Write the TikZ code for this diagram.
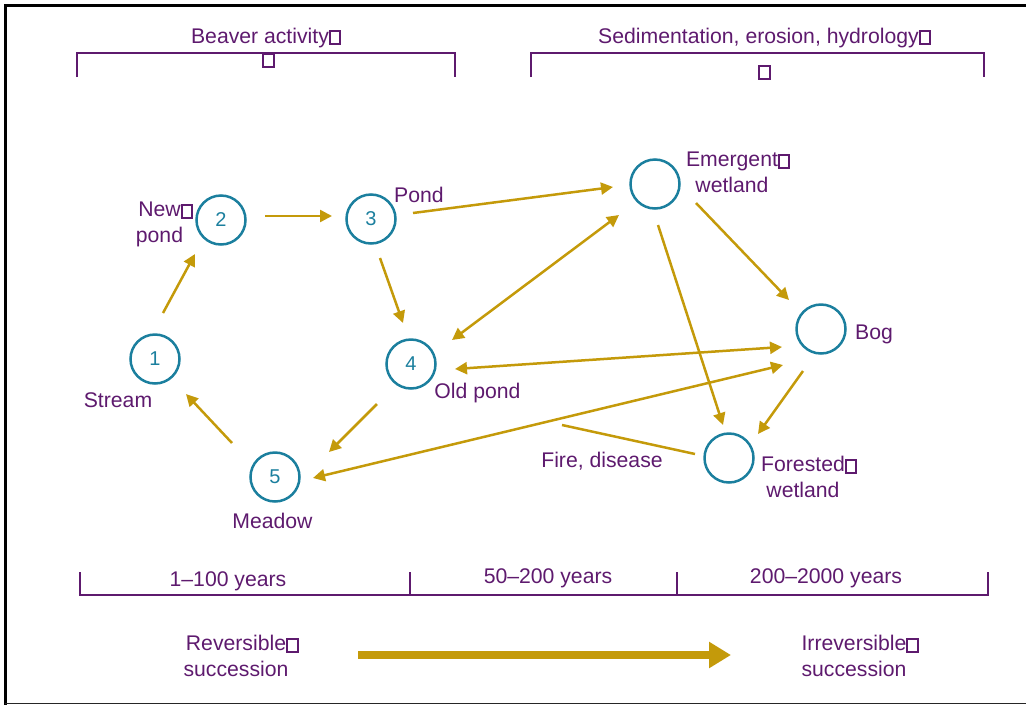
\documentclass[tikz,border=0pt]{standalone}
\usepackage{fontspec}
\setmainfont{Liberation Sans}
\usetikzlibrary{arrows.meta}
\definecolor{txt}{HTML}{5E1A6E}
\definecolor{ring}{HTML}{1B7F9E}
\definecolor{gold}{HTML}{C49A0A}
\newcommand{\gbox}{{\fboxsep=0pt\fboxrule=2pt\fbox{\rule{0pt}{11pt}\hspace{8.5pt}}}}
\newcommand{\gb}{\rlap{\gbox}}
\begin{document}
\begin{tikzpicture}[x=1pt,y=-1pt,
  lbl/.style={text=txt,font=\fontsize{21.2}{25.5}\selectfont,inner sep=0pt,anchor=base,align=center},
  st/.style={circle,draw=ring,line width=2.5pt,minimum size=49pt,inner sep=0pt,text=ring,font=\fontsize{20}{22}\selectfont},
  arr/.style={draw=gold,line width=2.5pt,-{Triangle[length=12pt,width=12pt]}},
  arrb/.style={draw=gold,line width=2.5pt,{Triangle[length=12pt,width=12pt]}-{Triangle[length=12pt,width=12pt]}},
  brk/.style={draw=txt,line width=1.4pt}
]
\useasboundingbox (0,0) rectangle (1026,705);
% frame
\draw[line width=3pt] (1026,5) -- (5,5) -- (5,705);
\draw[line width=1.2pt,black!85] (5,703.5) -- (1026,703.5);
% brackets
\draw[brk] (77,77) -- (77,53) -- (455,53) -- (455,77);
\draw[brk] (531,77) -- (531,53) -- (984,53) -- (984,77);
\draw[brk] (80,572) -- (80,595) -- (988,595) -- (988,572);
\draw[brk] (410,572) -- (410,595);
\draw[brk] (677,572) -- (677,595);
% titles
\node[lbl] (tba) at (260,43) {Beaver activity\gb};
\node[lbl,anchor=base west] (tbb) at (262,66) {\gbox};
\node[lbl] (tsa) at (758.5,43) {Sedimentation, erosion, hydrology\gb};
\node[lbl,anchor=base west] (tsb) at (758,78) {\gbox};
% states
\node[st] (c1) at (155,359) {1};
\node[st] (c2) at (221,220) {2};
\node[st] (c3) at (371,219) {3};
\node[st] (c4) at (411,364) {4};
\node[st] (c5) at (275,477) {5};
\node[st] (ce) at (655,184) {};
\node[st] (cb) at (821,329) {};
\node[st] (cf) at (729,458) {};
% labels
\node[lbl] (l1) at (118,407) {Stream};
\node[lbl] (l2) at (159.5,242) {New\gb\\pond};
\node[lbl] (l3) at (419,202) {Pond};
\node[lbl] (l4) at (477.5,398) {Old pond};
\node[lbl] (l5) at (272.5,528) {Meadow};
\node[lbl] (le) at (732,192) {Emergent\gb\\wetland};
\node[lbl] (lb) at (874,339) {Bog};
\node[lbl] (lfd) at (602,467) {Fire, disease};
\node[lbl] (lf) at (803,497) {Forested\gb\\wetland};
% time scale
\node[lbl] (y1) at (228,586) {1–100 years};
\node[lbl] (y2) at (548,583) {50–200 years};
\node[lbl] (y3) at (826,583) {200–2000 years};
\node[lbl] (rv) at (236,676) {Reversible\gb\\succession};
\node[lbl] (irv) at (854,676) {Irreversible\gb\\succession};
% big arrow
\coordinate (ta) at (358,655);
\coordinate (tb) at (731,655);
\draw[gold,line width=8pt,-{Triangle[length=22pt,width=25pt]}] (ta) -- (tb);
% connectors
\draw[arr] ([shift={(8,-46)}]c1.center) -- ([shift={(-26,34)}]c2.center);
\draw[arr] ([shift={(44,-4)}]c2.center) -- ([shift={(-39,-3)}]c3.center);
\draw[arr] ([shift={(9,39)}]c3.center) -- ([shift={(-8,-41)}]c4.center);
\draw[arr] ([shift={(-34,40)}]c4.center) -- ([shift={(54,-25)}]c5.center);
\draw[arr] ([shift={(-43,-34)}]c5.center) -- ([shift={(31,35)}]c1.center);
\draw[arr] ([shift={(42,-6)}]c3.center) -- ([shift={(-42,3)}]ce.center);
\draw[arrb] ([shift={(41,-24)}]c4.center) -- ([shift={(-36,31)}]ce.center);
\draw[arrb] ([shift={(44,5)}]c4.center) -- ([shift={(-39,18)}]cb.center);
\draw[arrb] ([shift={(38,1)}]c5.center) -- ([shift={(-38,36)}]cb.center);
\draw[arr] ([shift={(41,19)}]ce.center) -- ([shift={(-32,-29)}]cb.center);
\draw[arr] ([shift={(3,41)}]ce.center) -- ([shift={(-6,-33)}]cf.center);
\draw[arr] ([shift={(-18,42)}]cb.center) -- ([shift={(29,-24)}]cf.center);
\coordinate (fd) at (562,425);
\draw[gold,line width=2.5pt] ([shift={(-34,-4)}]cf.center) -- (fd);
\end{tikzpicture}
\end{document}
